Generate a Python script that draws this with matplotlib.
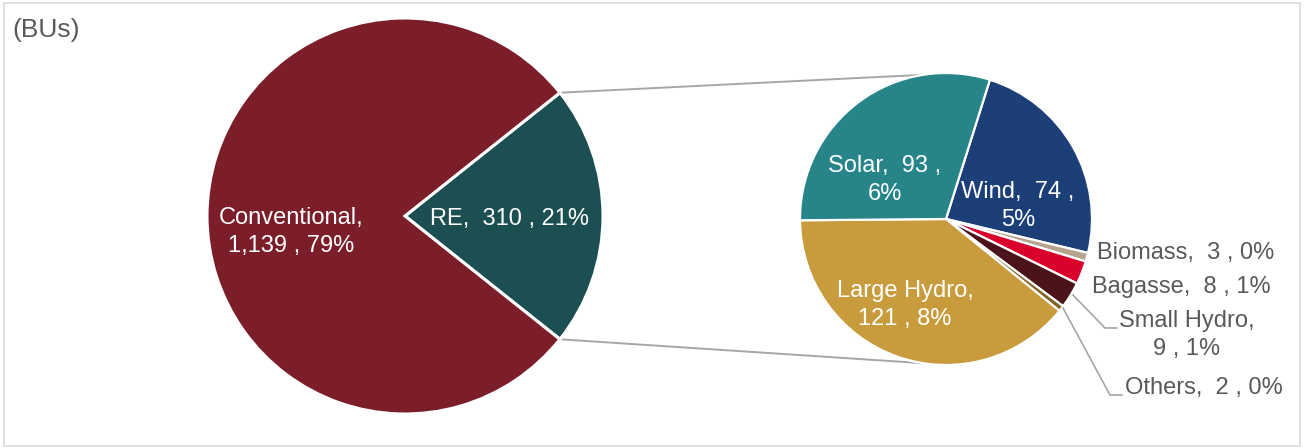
import matplotlib
matplotlib.use("Agg")
from matplotlib import pyplot as plt
from matplotlib.patches import Rectangle
import numpy as np

plt.rcParams['font.family'] = ['Liberation Sans', 'DejaVu Sans']

# main pie
main_labels = ['RE', 'Conventional']
main_values = [310, 1139]
main_colors = ['#1B4F52', '#7B1E2A']

# RE breakdown (clockwise from Wind)
re_labels = ['Wind', 'Biomass', 'Bagasse', 'Small Hydro', 'Others', 'Large Hydro', 'Solar']
re_values = [74, 3, 8, 9, 2, 121, 93]
re_colors = ['#1D3F78', '#B5A38E', '#D9002B', '#4A141A', '#7F6020', '#C89B3C', '#27858A']

total = sum(main_values)

W, H = 1304, 448
fig = plt.figure(figsize=(W / 100, H / 100), dpi=100)
ax = fig.add_axes([0, 0, 1, 1])

# frame
fig.patches.append(Rectangle((4 / W, 2 / H), (W - 8) / W, (H - 5) / H,
                             transform=fig.transFigure, fill=False,
                             edgecolor='#D9D9D9', lw=1.2))

def pct(v):
    return '{:.0f}%'.format(100 * v / total)

# left pie
c1, r1 = (405, H - 216), 198
half = main_values[0] / total * 360 / 2
ax.pie(main_values, colors=main_colors, center=c1, radius=r1, startangle=half,
       counterclock=False, wedgeprops=dict(edgecolor='white', linewidth=2.2),
       frame=True)

# right pie
c2, r2 = (946, H - 219), 146
ax.pie(re_values, colors=re_colors, center=c2, radius=r2, startangle=72.5,
       counterclock=False, wedgeprops=dict(edgecolor='white', linewidth=1.6),
       frame=True)
ax.set_xlim(0, W)
ax.set_ylim(0, H)
ax.set_aspect('equal')
ax.axis('off')

# connector lines
a1 = np.radians(half)
a2 = np.radians(99)
for s in (1, -1):
    ax.plot([c1[0] + r1 * np.cos(a1), c2[0] + r2 * np.cos(a2)],
            [c1[1] + s * r1 * np.sin(a1), c2[1] + s * r2 * np.sin(a2)],
            color='#A6A6A6', lw=1.4, zorder=0)

fs = 17
white = dict(color='white', fontsize=fs, ha='center', va='center', linespacing=1.3)
grey = dict(color='#595959', fontsize=fs, va='center', linespacing=1.3)

ax.text(291, H - 232, '{},\n{:,} , {}'.format(main_labels[1], main_values[1], pct(main_values[1])), **white)
ax.text(510, H - 219, '{},  {} , {}'.format(main_labels[0], main_values[0], pct(main_values[0])), **white)

v = dict(zip(re_labels, re_values))
ax.text(885, H - 180, 'Solar,  {} ,\n{}'.format(v['Solar'], pct(v['Solar'])), **white)
ax.text(1018, H - 206, 'Wind,  {} ,\n{}'.format(v['Wind'], pct(v['Wind'])), **white)
ax.text(905, H - 305, 'Large Hydro,\n{} , {}'.format(v['Large Hydro'], pct(v['Large Hydro'])), **white)

ax.text(1097, H - 253, 'Biomass,  {} , {}'.format(v['Biomass'], pct(v['Biomass'])), ha='left', **grey)
ax.text(1092, H - 287, 'Bagasse,  {} , {}'.format(v['Bagasse'], pct(v['Bagasse'])), ha='left', **grey)
ax.text(1187, H - 335, 'Small Hydro,\n{} , {}'.format(v['Small Hydro'], pct(v['Small Hydro'])), ha='center', **grey)
ax.text(1125, H - 388, 'Others,  {} , {}'.format(v['Others'], pct(v['Others'])), ha='left', **grey)

# leader lines
ax.plot([1073, 1105, 1117], [H - 295, H - 328, H - 328], color='#A6A6A6', lw=1.2)
ax.plot([1063, 1110, 1122], [H - 308, H - 395, H - 395], color='#A6A6A6', lw=1.2)

ax.text(12, H - 30, '(BUs)', color='#595959', fontsize=19, ha='left', va='center')

fig.savefig('out.png', dpi=100)
